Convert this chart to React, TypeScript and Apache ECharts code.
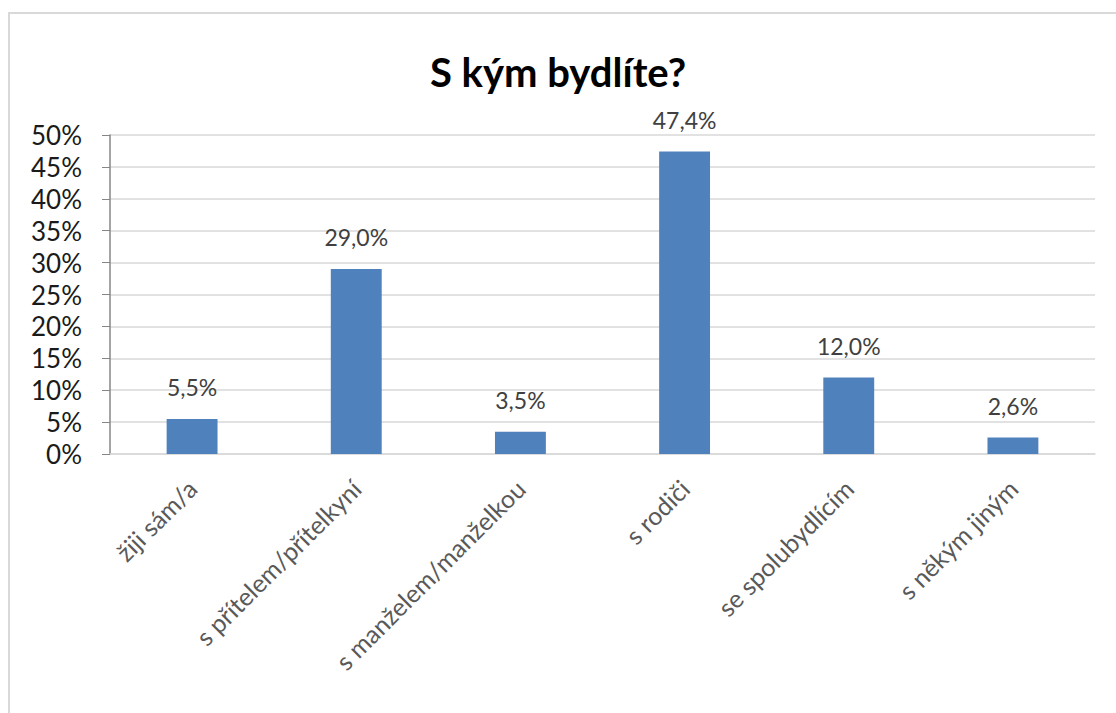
import React, { useEffect, useRef } from "react";
import * as echarts from "echarts";

const categories = [
  "žiji sám/a",
  "s přítelem/přítelkyní",
  "s manželem/manželkou",
  "s rodiči",
  "se spolubydlícím",
  "s někým jiným",
];
const values = [5.5, 29.0, 3.5, 47.4, 12.0, 2.6];
const yTicks = { min: 0, max: 50, interval: 5 };
const title = "S kým bydlíte?";

const FONT = "Lato, 'Open Sans', sans-serif";

export default function App() {
  const ref = useRef<HTMLDivElement>(null);
  useEffect(() => {
    if (!ref.current) return;
    const chart = echarts.init(ref.current, null, { renderer: "svg" });
    chart.setOption({
      animation: false,
      backgroundColor: "#ffffff",
      textStyle: { fontFamily: FONT },
      title: {
        text: title,
        left: "center",
        top: 47,
        textStyle: { fontFamily: FONT, fontSize: 40, fontWeight: "bold", color: "#000000" },
      },
      graphic: [
        {
          type: "rect",
          shape: { x: 9, y: 13, width: 1200, height: 800 },
          style: { fill: "none", stroke: "#d9d9d9", lineWidth: 2 },
          silent: true,
        },
      ],
      grid: { left: 110, right: 21, top: 135, bottom: 259, containLabel: false },
      xAxis: {
        type: "category",
        data: categories,
        axisLine: { show: true, lineStyle: { color: "#d9d9d9", width: 1.5 } },
        axisTick: { show: false },
        axisLabel: {
          rotate: 45,
          interval: 0,
          margin: 30,
          fontSize: 25,
          color: "#595959",
          fontFamily: FONT,
        },
      },
      yAxis: {
        type: "value",
        min: yTicks.min,
        max: yTicks.max,
        interval: yTicks.interval,
        axisLine: { show: true, lineStyle: { color: "#868686", width: 1.5 } },
        axisTick: { show: true, inside: false, length: 8, lineStyle: { color: "#868686" } },
        splitLine: { show: true, lineStyle: { color: "#d9d9d9", width: 1.5 } },
        axisLabel: {
          formatter: "{value}%",
          fontSize: 26,
          color: "#1a1a1a",
          margin: 28,
          fontFamily: FONT,
        },
      },
      series: [
        {
          type: "bar",
          data: values,
          barWidth: "31%",
          itemStyle: { color: "#4f81bd" },
          label: {
            show: true,
            position: "top",
            distance: 20,
            fontSize: 23,
            color: "#404040",
            fontFamily: FONT,
            formatter: (p: any) => p.value.toFixed(1).replace(".", ",") + "%",
          },
        },
      ],
    });
    return () => chart.dispose();
  }, []);
  return (
    <div
      ref={ref}
      style={{ position: "fixed", left: 0, top: 0, width: 1116, height: 713 }}
    />
  );
}
